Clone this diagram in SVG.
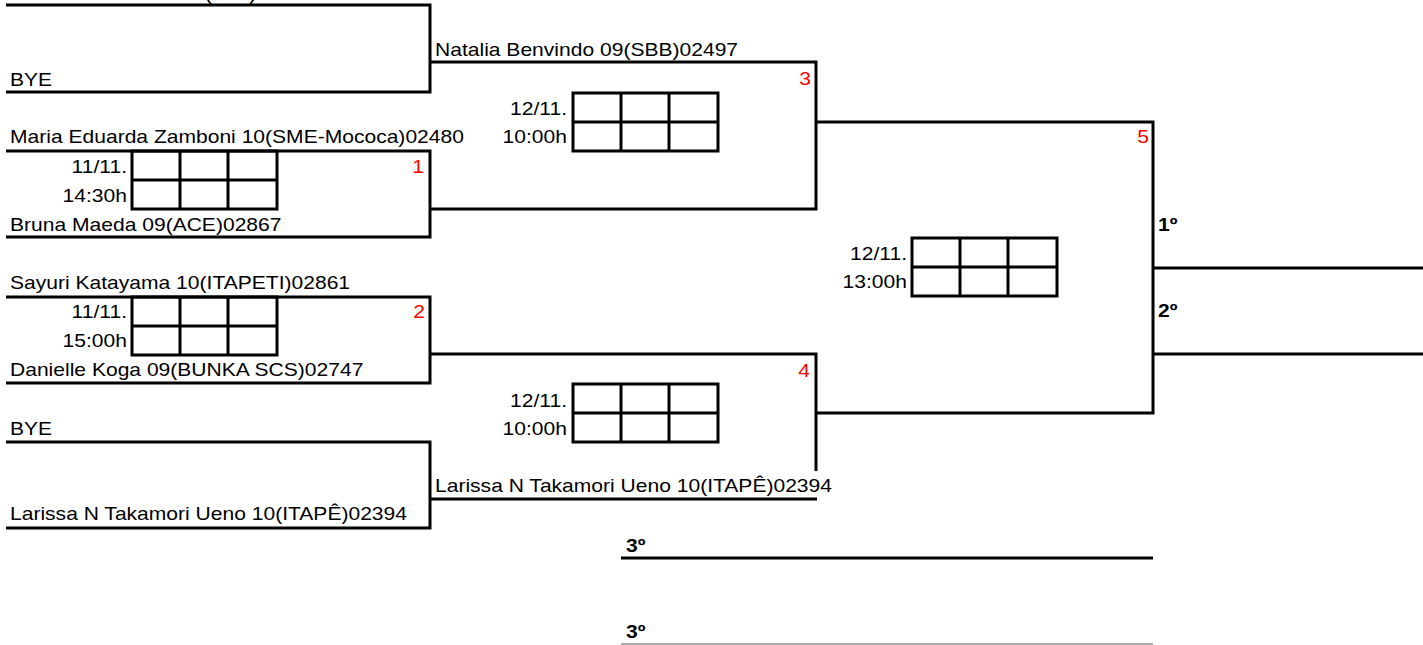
<svg xmlns="http://www.w3.org/2000/svg" xmlns:xlink="http://www.w3.org/1999/xlink" width="1423" height="645" viewBox="0 0 1423 645">
<style>
text{font-family:"Liberation Sans",Arial,sans-serif;font-size:18px;fill:#000}
.r{fill:#ff0000}
.b{font-weight:bold}
.e{text-anchor:end}
.ln{stroke:#000;stroke-width:3;fill:none;stroke-linejoin:miter}
.thin{stroke:#aaa;stroke-width:2;fill:none}
</style>
<defs>
<g id="grid">
<rect x="0" y="0" width="145" height="58" class="ln"/>
<path d="M48 0V58M96 0V58M0 29H145" class="ln"/>
</g>
</defs>
<rect width="1423" height="645" fill="#fff"/>
<g id="connectors">
<polyline class="ln" points="6,5 430,5 430,92 6,92"/>
<polyline class="ln" points="6,151 430,151 430,237 6,237"/>
<polyline class="ln" points="6,297 430,297 430,383 6,383"/>
<polyline class="ln" points="6,442 430,442 430,528 6,528"/>
<polyline class="ln" points="430,62 816,62 816,209 430,209"/>
<polyline class="ln" points="430,354 816,354 816,471"/>
<line class="ln" x1="430" y1="499" x2="817" y2="499"/>
<polyline class="ln" points="816,122 1153,122 1153,413 816,413"/>
<line class="ln" x1="1153" y1="268" x2="1423" y2="268"/>
<line class="ln" x1="1153" y1="354" x2="1423" y2="354"/>
<line class="ln" x1="621" y1="558" x2="1153" y2="558"/>
<line class="thin" x1="621" y1="644" x2="1153" y2="644"/>
</g>
<g id="cutoff-top">
<text transform="translate(205 -0.5) scale(1.17 1)">(</text>
<text transform="translate(249 -0.5) scale(1.17 1)">)</text>
</g>
<g id="p-bye1"><text transform="translate(10 86) scale(1.17 1)">BYE</text></g>
<g id="p-natalia"><text transform="translate(435 56) scale(1.17 1)">Natalia Benvindo 09(SBB)02497</text></g>
<g id="p-maria"><text transform="translate(10 143) scale(1.17 1)">Maria Eduarda Zamboni 10(SME-Mococa)02480</text></g>
<g id="p-bruna"><text transform="translate(10 231) scale(1.17 1)">Bruna Maeda 09(ACE)02867</text></g>
<g id="p-sayuri"><text transform="translate(10 289) scale(1.17 1)">Sayuri Katayama 10(ITAPETI)02861</text></g>
<g id="p-danielle"><text transform="translate(10 376) scale(1.17 1)">Danielle Koga 09(BUNKA SCS)02747</text></g>
<g id="p-bye2"><text transform="translate(10 435) scale(1.17 1)">BYE</text></g>
<g id="p-larissa1"><text transform="translate(10 520) scale(1.17 1)">Larissa N Takamori Ueno 10(ITAPÊ)02394</text></g>
<g id="p-larissa2"><text transform="translate(435 492) scale(1.17 1)">Larissa N Takamori Ueno 10(ITAPÊ)02394</text></g>
<g id="match-1">
<use xlink:href="#grid" x="132" y="151"/>
<text class="e" transform="translate(127 173) scale(1.17 1)">11/11.</text>
<text class="e" transform="translate(127 202) scale(1.17 1)">14:30h</text>
<text class="r e" transform="translate(424 173) scale(1.17 1)">1</text>
</g>
<g id="match-2">
<use xlink:href="#grid" x="132" y="297"/>
<text class="e" transform="translate(127 318) scale(1.17 1)">11/11.</text>
<text class="e" transform="translate(127 347) scale(1.17 1)">15:00h</text>
<text class="r e" transform="translate(425 318) scale(1.17 1)">2</text>
</g>
<g id="match-3">
<use xlink:href="#grid" x="573" y="93"/>
<text class="e" transform="translate(567 115) scale(1.17 1)">12/11.</text>
<text class="e" transform="translate(567 143) scale(1.17 1)">10:00h</text>
<text class="r e" transform="translate(811 85) scale(1.17 1)">3</text>
</g>
<g id="match-4">
<use xlink:href="#grid" x="573" y="384"/>
<text class="e" transform="translate(567 407) scale(1.17 1)">12/11.</text>
<text class="e" transform="translate(567 435) scale(1.17 1)">10:00h</text>
<text class="r e" transform="translate(810 377) scale(1.17 1)">4</text>
</g>
<g id="match-5">
<use xlink:href="#grid" x="912" y="238"/>
<text class="e" transform="translate(907 260) scale(1.17 1)">12/11.</text>
<text class="e" transform="translate(907 288) scale(1.17 1)">13:00h</text>
<text class="r e" transform="translate(1149 143) scale(1.17 1)">5</text>
</g>
<g id="place-1"><text class="b" transform="translate(1158 231) scale(1.17 1)">1º</text></g>
<g id="place-2"><text class="b" transform="translate(1158 317) scale(1.17 1)">2º</text></g>
<g id="place-3a"><text class="b" transform="translate(626 552) scale(1.17 1)">3º</text></g>
<g id="place-3b"><text class="b" transform="translate(626 638) scale(1.17 1)">3º</text></g>
</svg>
